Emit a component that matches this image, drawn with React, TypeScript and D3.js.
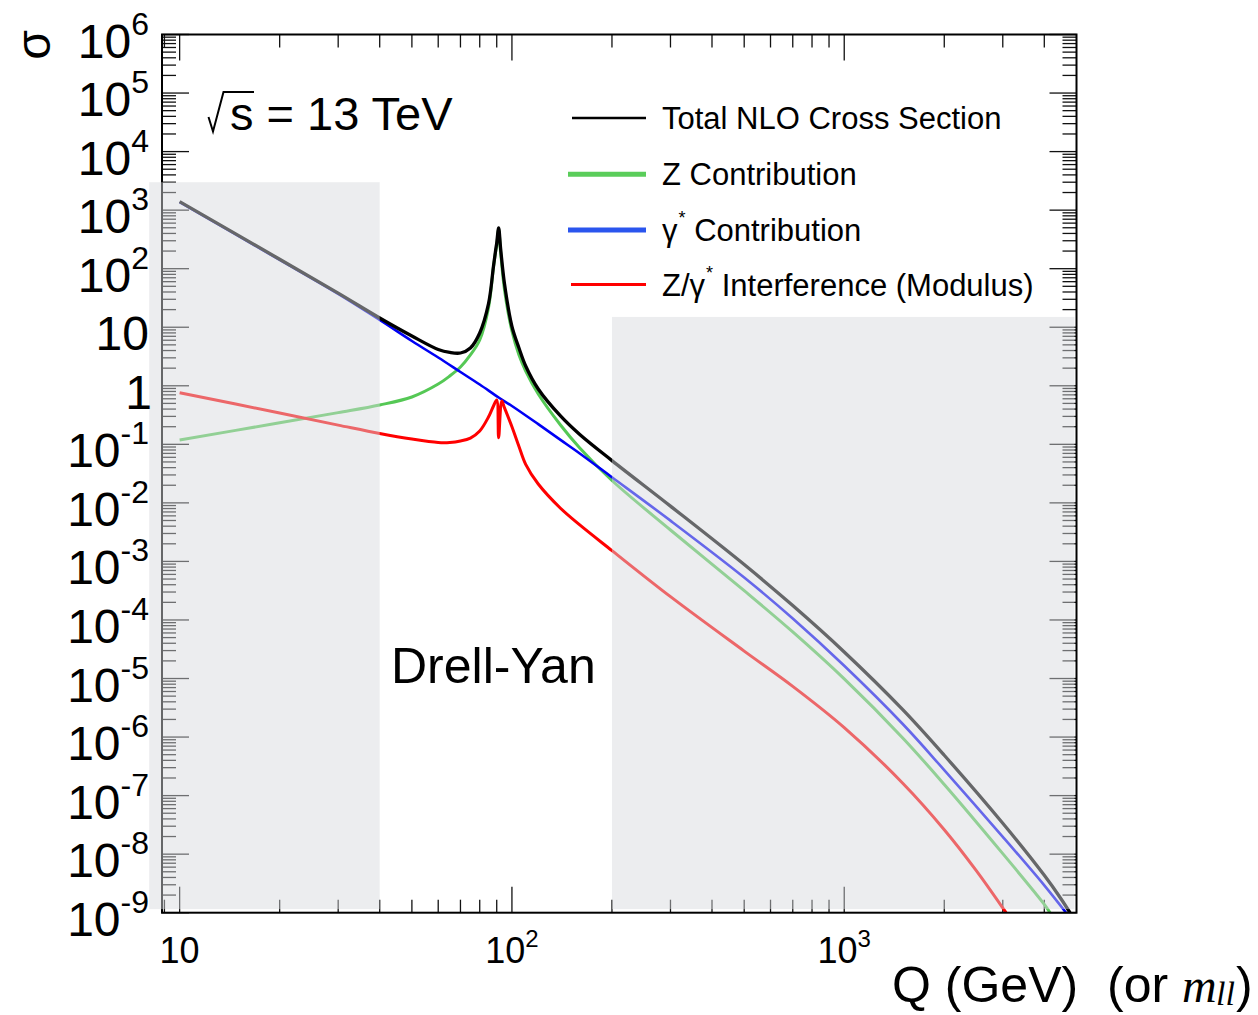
import React from 'react';
import * as d3 from 'd3';

// ---------- data ----------
const X_DOMAIN = [8.85, 5000];
const Y_DOMAIN = [1e-9, 1e6];

const Q_TOTAL = [10, 20, 30, 40, 50, 60, 65, 70, 75, 80, 85, 88, 89.3, 90, 91.2, 92.5, 95, 100, 105, 110, 120, 140, 160, 200, 300, 500, 700, 1000, 1500, 2000, 3000, 4000, 4500, 4780];
const SIGMA_TOTAL = [1396, 145, 38.2, 14.4, 7.09, 4.17, 3.71, 3.63, 4.42, 7.98, 25, 110, 205, 275, 495, 215, 55, 10.3, 4.42, 2.18, 0.881, 0.305, 0.147, 0.0527, 8.79e-3, 8.83e-4, 1.76e-4, 2.84e-5, 2.94e-6, 4.89e-7, 3.37e-8, 4.35e-9, 1.7e-9, 1e-9];

const Q_GAMMA = [10, 20, 30, 40, 50, 60, 70, 80, 91.2, 100, 120, 140, 160, 200, 300, 500, 700, 1000, 1500, 2000, 3000, 4000, 4651];
const SIGMA_GAMMA = [1377, 141, 37.0, 13.3, 5.82, 3.04, 1.72, 1.05, 0.63, 0.452, 0.221, 0.119, 0.0698, 0.0274, 4.97e-3, 5.32e-4, 1.06e-4, 1.65e-5, 1.67e-6, 2.73e-7, 1.98e-8, 2.93e-9, 1e-9];

const Q_Z = [10, 20, 30, 40, 50, 60, 65, 70, 75, 80, 85, 88, 89.3, 90, 91.2, 92.5, 95, 100, 105, 110, 120, 140, 160, 200, 300, 500, 700, 1000, 1500, 2000, 3000, 4000, 4163];
const SIGMA_Z = [0.1186, 0.233, 0.348, 0.47, 0.644, 1.07, 1.47, 2.09, 3.36, 6.05, 21.3, 107, 193, 245, 468, 186, 43.3, 8.63, 3.36, 1.79, 0.724, 0.214, 0.0867, 0.0241, 3.44e-3, 3.16e-4, 6.24e-5, 9.86e-6, 9.66e-7, 1.55e-7, 1.02e-8, 1.39e-9, 1e-9];

const Q_INT = [10, 20, 30, 40, 50, 60, 65, 70, 75, 80, 85, 88, 90.0, 91.2, 93.2, 95, 100, 105, 110, 120, 140, 160, 200, 300, 500, 700, 1000, 1500, 2000, 2500, 3069];
const SIGMA_INT = [0.762, 0.342, 0.213, 0.153, 0.123, 0.1076, 0.1076, 0.114, 0.128, 0.169, 0.293, 0.452, 0.572, 0.13, 0.55, 0.42, 0.2, 0.092, 0.0455, 0.021, 0.0081, 0.0042, 0.00153, 2.5e-4, 2.94e-5, 7.34e-6, 1.45e-6, 1.63e-7, 2.62e-8, 5.19e-9, 1e-9];

const SHADE_Q = [[8.1, 40], [200, 4930]];
const SHADE_SIGMA = [[1.15e-9, 3000], [1.15e-9, 15]];

const Y_TICK_EXPONENTS = [-9, -8, -7, -6, -5, -4, -3, -2, -1, 0, 1, 2, 3, 4, 5, 6];
const X_MAJOR_TICKS = [10, 100, 1000];
const X_LABEL_EXPONENTS = [1, 2, 3];
const X_MINOR_TICKS = [9, 20, 30, 40, 50, 60, 70, 80, 90, 200, 300, 400, 500, 600, 700, 800, 900, 2000, 3000, 4000];

const LEGEND_LABELS = ['Total NLO Cross Section', 'Z Contribution', 'Contribution', 'Interference (Modulus)'];

const SANS = 'Liberation Sans, Arial, Helvetica, sans-serif';
const SERIF = 'Liberation Serif, Times New Roman, serif';

export default function App() {
  const W = 1258, H = 1015;
  const L = 162, R = 1076.5, T = 34.5, B = 912.7;
  const x = d3.scaleLog().domain(X_DOMAIN).range([L, R]);
  const y = d3.scaleLog().domain(Y_DOMAIN).range([B, T]);

  const path = (qs: number[], ss: number[]) =>
    d3.line<number>()
      .x((_, i) => x(qs[i]))
      .y((_, i) => y(ss[i]))
      .curve(d3.curveCatmullRom.alpha(0.5))(ss) || '';

  const yMinor: number[] = [];
  for (const e of Y_TICK_EXPONENTS) {
    if (e === 6) continue;
    for (let k = 2; k <= 9; k++) yMinor.push(k * Math.pow(10, e));
  }

  const tickColor = '#111';
  const tickW = 1.3;

  return (
    <div style={{ position: 'absolute', left: 0, top: 0 }}>
      <svg width={W} height={H} xmlns="http://www.w3.org/2000/svg" style={{ display: 'block', background: '#fff' }}>
        <defs>
          <clipPath id="plotclip">
            <rect x={L} y={T} width={R - L} height={B - T} />
          </clipPath>
        </defs>
        <rect x={0} y={0} width={W} height={H} fill="#fff" />

        {/* ticks */}
        <g stroke={tickColor} strokeWidth={tickW}>
          {Y_TICK_EXPONENTS.map((e) => {
            const yy = y(Math.pow(10, e));
            return (
              <g key={'ym' + e}>
                <line x1={L} x2={L + 27} y1={yy} y2={yy} />
                <line x1={R} x2={R - 27} y1={yy} y2={yy} />
              </g>
            );
          })}
          {yMinor.map((v, i) => {
            const yy = y(v);
            return (
              <g key={'yn' + i}>
                <line x1={L} x2={L + 14} y1={yy} y2={yy} />
                <line x1={R} x2={R - 14} y1={yy} y2={yy} />
              </g>
            );
          })}
          {X_MAJOR_TICKS.map((v) => (
            <g key={'xm' + v}>
              <line x1={x(v)} x2={x(v)} y1={B} y2={B - 26} />
              <line x1={x(v)} x2={x(v)} y1={T} y2={T + 26} />
            </g>
          ))}
          {X_MINOR_TICKS.map((v) => (
            <g key={'xn' + v}>
              <line x1={x(v)} x2={x(v)} y1={B} y2={B - 13} />
              <line x1={x(v)} x2={x(v)} y1={T} y2={T + 13} />
            </g>
          ))}
        </g>

        {/* curves */}
        <g clipPath="url(#plotclip)" fill="none" strokeLinejoin="round" strokeLinecap="butt">
          <path d={path(Q_Z, SIGMA_Z)} stroke="#55c855" strokeWidth={3} />
          <path d={path(Q_GAMMA, SIGMA_GAMMA)} stroke="#0000f5" strokeWidth={2.6} />
          <path d={path(Q_INT, SIGMA_INT)} stroke="#ff0000" strokeWidth={3} />
          <path d={path(Q_TOTAL, SIGMA_TOTAL)} stroke="#000" strokeWidth={3.3} />
        </g>

        {/* frame */}
        <rect x={L} y={T} width={R - L} height={B - T} fill="none" stroke="#000" strokeWidth={2} />

        {/* shaded regions (translucent overlay) */}
        {SHADE_Q.map((qr, i) => (
          <rect
            key={'sh' + i}
            x={x(qr[0])}
            y={y(SHADE_SIGMA[i][1])}
            width={x(qr[1]) - x(qr[0])}
            height={y(SHADE_SIGMA[i][0]) - y(SHADE_SIGMA[i][1])}
            fill="rgb(215,217,221)"
            fillOpacity={0.475}
          />
        ))}

        {/* y tick labels */}
        <g fontFamily={SANS} fill="#000">
          {Y_TICK_EXPONENTS.map((e) => {
            const yy = y(Math.pow(10, e));
            if (e === 0)
              return <text key={'yl' + e} x={152} y={yy + 23} fontSize={48} textAnchor="end">1</text>;
            if (e === 1)
              return <text key={'yl' + e} x={149} y={yy + 23} fontSize={48} textAnchor="end">10</text>;
            return (
              <text key={'yl' + e} x={149} y={yy + 23} fontSize={48} textAnchor="end">
                10<tspan fontSize={32} dy={-23}>{String(e)}</tspan>
              </text>
            );
          })}
        </g>

        {/* x tick labels */}
        <g fontFamily={SANS} fill="#000">
          {X_MAJOR_TICKS.map((v, i) => {
            const e = X_LABEL_EXPONENTS[i];
            if (e === 1)
              return <text key={'xl' + v} x={x(v)} y={963} fontSize={36} textAnchor="middle">10</text>;
            return (
              <text key={'xl' + v} x={x(v)} y={963} fontSize={36} textAnchor="middle">
                10<tspan fontSize={24} dy={-16}>{String(e)}</tspan>
              </text>
            );
          })}
        </g>

        {/* axis titles */}
        <text fontFamily={SANS} fontSize={48} transform="translate(50,45) rotate(-90)" textAnchor="middle">σ</text>
        <g fill="#000">
          <text x={892} y={1002} fontFamily={SANS} fontSize={50}>Q (GeV)</text>
          <text x={1107} y={1002} fontFamily={SANS} fontSize={50}>(or</text>
          <text x={1182} y={1002} fontFamily={SERIF} fontStyle="italic" fontSize={48}>m</text>
          <text x={1216} y={1005} fontFamily={SERIF} fontStyle="italic" fontSize={34}>ll</text>
          <text x={1236} y={1002} fontFamily={SANS} fontSize={50}>)</text>
        </g>

        {/* sqrt(s) annotation */}
        <path d="M208.5,117 L213,131.5 L223.5,92 L254,92" fill="none" stroke="#000" strokeWidth={2} />
        <text x={230} y={130} fontFamily={SANS} fontSize={47}>s = 13 TeV</text>

        {/* Drell-Yan label */}
        <text x={391} y={683} fontFamily={SANS} fontSize={50}>Drell-Yan</text>

        {/* legend */}
        <g fontFamily={SANS} fontSize={31} fill="#000">
          <line x1={572} x2={646} y1={118} y2={118} stroke="#000" strokeWidth={2.6} />
          <text x={662} y={128.5}>{LEGEND_LABELS[0]}</text>
          <line x1={568} x2={646} y1={174.3} y2={174.3} stroke="#5acd5a" strokeWidth={5} />
          <text x={662} y={185}>{LEGEND_LABELS[1]}</text>
          <line x1={568} x2={646} y1={230} y2={230} stroke="#2a55ee" strokeWidth={5} />
          <text x={662} y={240.5}>
            γ<tspan fontSize={18} dy={-17} dx={1}>*</tspan>
            <tspan dy={17}> {LEGEND_LABELS[2]}</tspan>
          </text>
          <line x1={571} x2={646} y1={284.5} y2={284.5} stroke="#ff0000" strokeWidth={3} />
          <text x={662} y={296}>
            Z/γ<tspan fontSize={18} dy={-17} dx={1}>*</tspan>
            <tspan dy={17}> {LEGEND_LABELS[3]}</tspan>
          </text>
        </g>
      </svg>
    </div>
  );
}
